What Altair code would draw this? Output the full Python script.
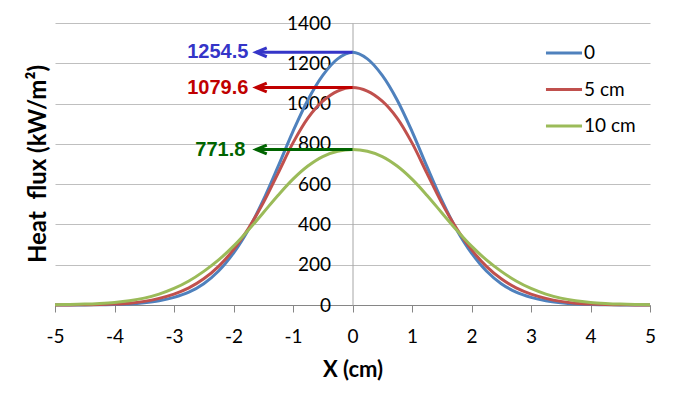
import altair as alt
import pandas as pd

# ---- data ----
x_cm = [-5.0, -4.75, -4.5, -4.25, -4.0, -3.75, -3.5, -3.25, -3.0, -2.75, -2.5, -2.25, -2.0,
        -1.75, -1.5, -1.25, -1.0, -0.75, -0.5, -0.25, 0.0, 0.25, 0.5, 0.75, 1.0, 1.25, 1.5,
        1.75, 2.0, 2.25, 2.5, 2.75, 3.0, 3.25, 3.5, 3.75, 4.0, 4.25, 4.5, 4.75, 5.0]

flux_0 = [0, 0.1, 0.4, 1, 2.5, 5, 11, 21, 38, 64, 106, 169, 258, 374, 520, 688, 862, 1018,
          1140, 1222, 1254.5, 1222, 1140, 1018, 862, 688, 520, 374, 258, 169, 106, 64, 38,
          21, 11, 5, 2.5, 1, 0.4, 0.1, 0]
flux_5 = [0.2, 0.4, 1, 2, 4.5, 9, 18, 33, 54, 85, 130, 192, 275, 380, 507, 655, 805, 928,
          1012, 1062, 1079.6, 1062, 1012, 928, 805, 655, 507, 380, 275, 192, 130, 85, 54,
          33, 18, 9, 4.5, 2, 1, 0.4, 0.2]
flux_10 = [1.5, 2.5, 4.5, 8, 13, 21, 34, 54, 82, 119, 167, 224, 292, 372, 458, 545, 625, 690,
           737, 763, 771.8, 763, 737, 690, 625, 545, 458, 372, 292, 224, 167, 119, 82, 54,
           34, 21, 13, 8, 4.5, 2.5, 1.5]

series_names = ["0", "5 cm", "10 cm"]
series_colors = ["#4F81BD", "#C0504D", "#9BBB59"]

peak_values = [1254.5, 1079.6, 771.8]
peak_labels = ["1254.5", "1079.6", "771.8"]
peak_colors = ["#3535C8", "#C00000", "#006400"]
arrow_start_x = [0, 0, 0]
arrow_tip_x = [-1.62, -1.62, -1.62]
label_x = [-1.75, -1.75, -1.8]

x_ticks = [-5, -4, -3, -2, -1, 0, 1, 2, 3, 4, 5]
y_ticks = [0, 200, 400, 600, 800, 1000, 1200, 1400]

# ---- tables ----
rows = []
for name, vals in zip(series_names, [flux_0, flux_5, flux_10]):
    for xv, yv in zip(x_cm, vals):
        rows.append({"x": xv, "flux": yv, "series": name})
df = pd.DataFrame(rows)

ann = pd.DataFrame({
    "value": peak_values, "label": peak_labels, "color": peak_colors,
    "x0": arrow_start_x, "tip": arrow_tip_x, "lx": label_x,
})

W, H = 595, 282

x_scale = alt.Scale(domain=[-5, 5], nice=False)
y_scale = alt.Scale(domain=[0, 1400], nice=False)

x_axis = alt.Axis(values=x_ticks, labelExpr="'' + datum.value", domainColor="#868686",
                  tickColor="#868686", tickSize=7, labelPadding=15, labelFont="Lato",
                  labelFontSize=19, labelColor="black", labelFlush=False, labelOverlap=False,
                  grid=False, title="X (cm)", titleFont="Lato", titleFontSize=22,
                  titleFontWeight="bold", titleColor="black", titlePadding=13)
y_axis = alt.Axis(values=y_ticks, format="d", offset=-W / 2, domain=True,
                  domainColor="#A6A6A6", domainWidth=1, ticks=False, labelPadding=22,
                  labelFont="Lato", labelFontSize=19, labelColor="black", grid=True,
                  gridColor="#BFBFBF", gridWidth=1, title=None)

lines = alt.Chart(df).mark_line(strokeWidth=3, interpolate="catmull-rom").encode(
    x=alt.X("x:Q", scale=x_scale, axis=x_axis),
    y=alt.Y("flux:Q", scale=y_scale, axis=y_axis),
    color=alt.Color("series:N", sort=series_names,
                    scale=alt.Scale(domain=series_names, range=series_colors),
                    legend=alt.Legend(title=None, orient="none", legendX=489, legendY=10,
                                      symbolType="stroke", symbolSize=1300,
                                      symbolStrokeWidth=3, labelFont="Lato",
                                      labelFontSize=19, labelColor="black", labelOffset=0,
                                      rowPadding=6.5, padding=0)),
    detail="series:N",
)

rules = alt.Chart(ann).mark_rule(strokeWidth=3).encode(
    x=alt.X("x0:Q", scale=x_scale, axis=x_axis),
    x2="tip:Q",
    y=alt.Y("value:Q", scale=y_scale, axis=y_axis),
    stroke=alt.Stroke("color:N", scale=None),
)

heads = alt.Chart(ann).mark_point(shape="M 1.8 -0.75 L 0 0 L 1.8 0.75", filled=False,
                                  size=140, strokeWidth=3, opacity=1).encode(
    x=alt.X("tip:Q", scale=x_scale, axis=x_axis),
    y=alt.Y("value:Q", scale=y_scale, axis=y_axis),
    stroke=alt.Stroke("color:N", scale=None),
)

texts = alt.Chart(ann).mark_text(align="right", baseline="middle", font="Liberation Sans",
                                 fontSize=20, fontWeight="bold").encode(
    x=alt.X("lx:Q", scale=x_scale, axis=x_axis),
    y=alt.Y("value:Q", scale=y_scale, axis=y_axis),
    text="label:N",
    fill=alt.Fill("color:N", scale=None),
)

chart = alt.layer(lines, rules, heads, texts).properties(
    width=W, height=H,
    autosize=alt.AutoSizeParams(type="none"),
    padding={"left": 47, "top": 15, "right": 15, "bottom": 90},
    title=alt.TitleParams(text="Heat\u00a0 flux (kW/m²)", orient="left", anchor="middle",
                          font="Lato", fontSize=24, fontWeight="bold", color="black",
                          offset=-5),
).configure_view(stroke=None)

chart.save("out.html", embed_options={"renderer": "svg", "actions": False})
